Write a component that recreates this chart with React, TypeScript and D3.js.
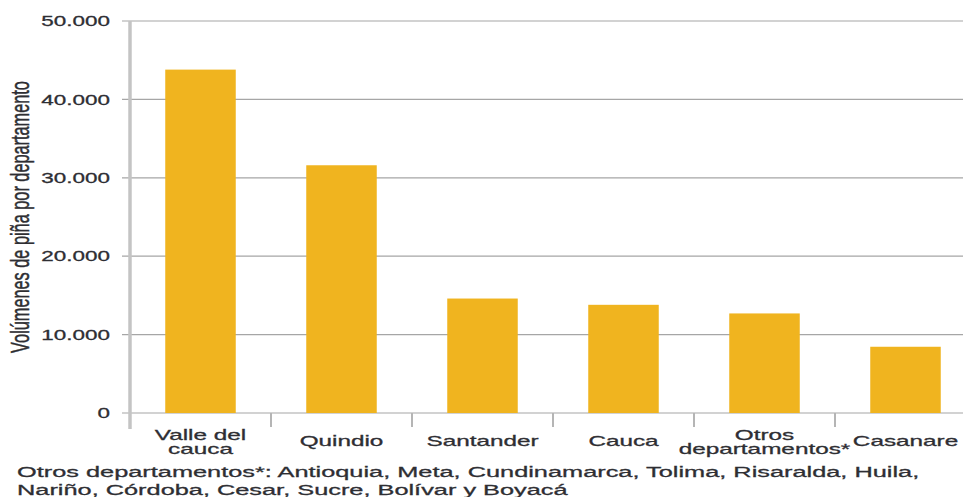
import React, { useRef, useEffect } from "react";
import * as d3 from "d3";

const departamentos = ["Valle del cauca", "Quindio", "Santander", "Cauca", "Otros departamentos*", "Casanare"];
const etiquetas = [["Valle del", "cauca"], ["Quindio"], ["Santander"], ["Cauca"], ["Otros", "departamentos*"], ["Casanare"]];
const volumenes = [43800, 31600, 14600, 13800, 12700, 8450];
const yTicks = [0, 10000, 20000, 30000, 40000, 50000];
const nota = [
  "Otros departamentos*: Antioquia, Meta, Cundinamarca, Tolima, Risaralda, Huila,",
  "Nariño, Córdoba, Cesar, Sucre, Bolívar y Boyacá",
];

const W = 963;
const H = 497;
const NUM_STRETCH = 1.45;
const STRETCH = 1.62;
const TXT = "#2e2e33";
const FONT = "Liberation Sans, Arial, sans-serif";

export default function App() {
  const ref = useRef<SVGSVGElement>(null);

  useEffect(() => {
    const svg = d3.select(ref.current);
    svg.selectAll("*").remove();

    const step = 141;
    const x0 = 130;
    const x = d3.scaleBand<string>()
      .domain(departamentos)
      .range([x0, x0 + step * departamentos.length])
      .paddingInner(0.5)
      .paddingOuter(0.25);
    const y = d3.scaleLinear().domain([0, 50000]).range([413, 21]);

    const fmt = (v: number) => (v === 0 ? "0" : d3.format(",")(v).replace(/,/g, "."));

    // heavier text like the scanned original
    const ink = (t: any) => t.attr("fill", TXT).attr("stroke", TXT).attr("stroke-width", 0.3);

    // gridlines + y ticks
    const grid = svg.append("g");
    yTicks.forEach(t => {
      grid.append("line")
        .attr("x1", 122).attr("x2", W)
        .attr("y1", y(t)).attr("y2", y(t))
        .attr("stroke", "#a6a6a6").attr("stroke-width", 1.2);
      grid.append("text")
        .attr("transform", `translate(110,${y(t)}) scale(${NUM_STRETCH},1)`)
        .attr("text-anchor", "end")
        .attr("dominant-baseline", "central")
        .attr("font-family", FONT)
        .attr("font-size", 15.5)
        .call(ink)
        .text(fmt(t));
    });

    // bars
    svg.append("g")
      .selectAll("rect")
      .data(volumenes)
      .join("rect")
      .attr("x", (_, i) => x(departamentos[i])!)
      .attr("width", x.bandwidth())
      .attr("y", d => y(d))
      .attr("height", d => y(0) - y(d))
      .attr("fill", "#f0b41f");

    // y axis line
    svg.append("line")
      .attr("x1", x0).attr("x2", x0)
      .attr("y1", y(50000)).attr("y2", 429)
      .attr("stroke", "#c4c4c4").attr("stroke-width", 3.5);

    // category boundary ticks
    d3.range(1, departamentos.length).forEach(i => {
      const bx = x0 + x.step() * i;
      svg.append("line")
        .attr("x1", bx).attr("x2", bx)
        .attr("y1", y(0)).attr("y2", 427)
        .attr("stroke", "#b5b5b5").attr("stroke-width", 2);
    });

    // category labels
    etiquetas.forEach((lines, i) => {
      const cx = x(departamentos[i])! + x.bandwidth() / 2;
      const base = lines.length === 1 ? 446 : 439.5;
      lines.forEach((l, j) => {
        svg.append("text")
          .attr("transform", `translate(${cx},${base + j * 14.5}) scale(${STRETCH},1)`)
          .attr("text-anchor", "middle")
          .attr("font-family", FONT)
          .attr("font-size", 15)
          .call(ink)
          .text(l);
      });
    });

    // y axis title
    svg.append("text")
      .attr("transform", `translate(29,217) rotate(-90) scale(1,${STRETCH})`)
      .attr("text-anchor", "middle")
      .attr("font-family", FONT)
      .attr("font-size", 16.3)
      .call(ink)
      .text("Volúmenes de piña por departamento");

    // footnote
    nota.forEach((l, j) => {
      svg.append("text")
        .attr("transform", `translate(17,${477 + j * 18}) scale(1.635,1)`)
        .attr("font-family", FONT)
        .attr("font-size", 15.5)
        .call(ink)
        .text(l);
    });
  }, []);

  return (
    <svg
      ref={ref}
      width={W}
      height={H}
      style={{ position: "absolute", left: 0, top: 0, background: "#fff" }}
    />
  );
}
